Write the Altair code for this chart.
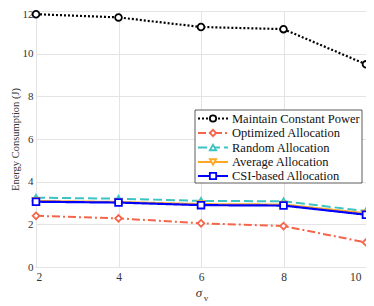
import altair as alt
import pandas as pd

sigma = [2, 4, 6, 8, 10]
maintain = [11.85, 11.7, 11.25, 11.15, 9.5]
optimized = [2.4, 2.28, 2.05, 1.92, 1.15]
random_alloc = [3.25, 3.2, 3.1, 3.08, 2.62]
average = [3.1, 3.05, 2.95, 2.93, 2.52]
csi = [3.06, 3.02, 2.9, 2.88, 2.45]

names = ["Maintain Constant Power", "Optimized Allocation", "Random Allocation",
         "Average Allocation", "CSI-based Allocation"]
series = [maintain, optimized, random_alloc, average, csi]
colors = ["#000000", "#f4654b", "#3cc3c3", "#ffa726", "#0000ff"]
dashes = [[2, 2], [8, 3, 2, 3], [9, 4], [1, 0], [1, 0]]
shapes = ["circle", "diamond", "triangle-up", "triangle-down", "square"]
widths = [2.2, 2, 2, 2, 2.2]

W, H = 330, 256
FONT = "Liberation Serif, Times New Roman, serif"

xs = alt.Scale(domain=[2, 10], nice=False)
ys = alt.Scale(domain=[0, 12], nice=False)

layers = []
for i, (n, vals) in enumerate(zip(names, series)):
    df = pd.DataFrame({"s": sigma, "e": vals})
    base = alt.Chart(df)
    line = base.mark_line(color=colors[i], strokeDash=dashes[i], strokeWidth=widths[i]).encode(
        x=alt.X("s:Q", scale=xs,
                axis=alt.Axis(values=[2, 4, 6, 8, 10], title=None, grid=True, ticks=False,
                              labelFont=FONT, labelFontSize=11.5, labelColor="#333333",
                              labelPadding=4, domain=False, gridColor="#e4e4e4",
                              labelOffset={"condition": {"test": "datum.value == 10", "value": -5},
                                           "value": 0})),
        y=alt.Y("e:Q", scale=ys,
                axis=alt.Axis(values=[0, 2, 4, 6, 8, 10, 12], title="Energy Consumption (J)",
                              grid=True, ticks=False, labelFont=FONT, labelFontSize=11,
                              labelColor="#333333", labelPadding=3, domain=False,
                              labelOffset={"condition": {"test": "datum.value == 12", "value": 3},
                                           "value": 0},
                              gridColor="#e4e4e4", titleFont=FONT, titleFontSize=10.5,
                              titleColor="#333333", titleFontWeight="normal", titlePadding=2)),
    )
    pts = base.mark_point(shape=shapes[i], color=colors[i], fill="white", filled=True,
                          stroke=colors[i], strokeWidth=1.8, size=45, opacity=1).encode(
        x=alt.X("s:Q", scale=xs), y=alt.Y("e:Q", scale=ys))
    layers += [line, pts]

# legend box
lx0, lx1, ly0, ly1 = 159, 326, 99, 172
box = alt.Chart(pd.DataFrame({"a": [0]})).mark_rect(
    fill="white", stroke="#333333", strokeWidth=0.8).encode(
    x=alt.value(lx0), x2=alt.value(lx1), y=alt.value(ly0), y2=alt.value(ly1))
layers.append(box)
rows = [107.5, 122, 136.5, 151, 165]
for i, n in enumerate(names):
    one = pd.DataFrame({"n": [n]})
    ry = rows[i]
    layers.append(alt.Chart(one).mark_rule(color=colors[i], strokeDash=dashes[i],
                                           strokeWidth=widths[i]).encode(
        x=alt.value(162), x2=alt.value(192), y=alt.value(ry)))
    layers.append(alt.Chart(one).mark_point(shape=shapes[i], color=colors[i], fill="white",
                                            filled=True, stroke=colors[i], strokeWidth=1.8,
                                            size=40, opacity=1).encode(
        x=alt.value(177), y=alt.value(ry)))
    layers.append(alt.Chart(one).mark_text(align="left", baseline="middle", font=FONT,
                                           fontSize=12.5, color="#111111").encode(
        x=alt.value(196), y=alt.value(ry), text="n:N"))

# x title sigma_v
layers.append(alt.Chart(pd.DataFrame({"t": ["σ"]})).mark_text(
    font=FONT, fontSize=13, fontStyle="italic", color="#333333", baseline="middle").encode(
    x=alt.value(163), y=alt.value(H + 26), text="t:N"))
layers.append(alt.Chart(pd.DataFrame({"t": ["v"]})).mark_text(
    font=FONT, fontSize=9, color="#333333", baseline="middle").encode(
    x=alt.value(170), y=alt.value(H + 31), text="t:N"))

chart = alt.layer(*layers).properties(
    width=W, height=H, autosize=alt.AutoSizeParams(type="none"),
    padding={"left": 28, "top": 3, "right": 0, "bottom": 39},
).configure_view(stroke="#808080", strokeWidth=1)

chart.save("out.html", embed_options={"renderer": "svg", "actions": False})
